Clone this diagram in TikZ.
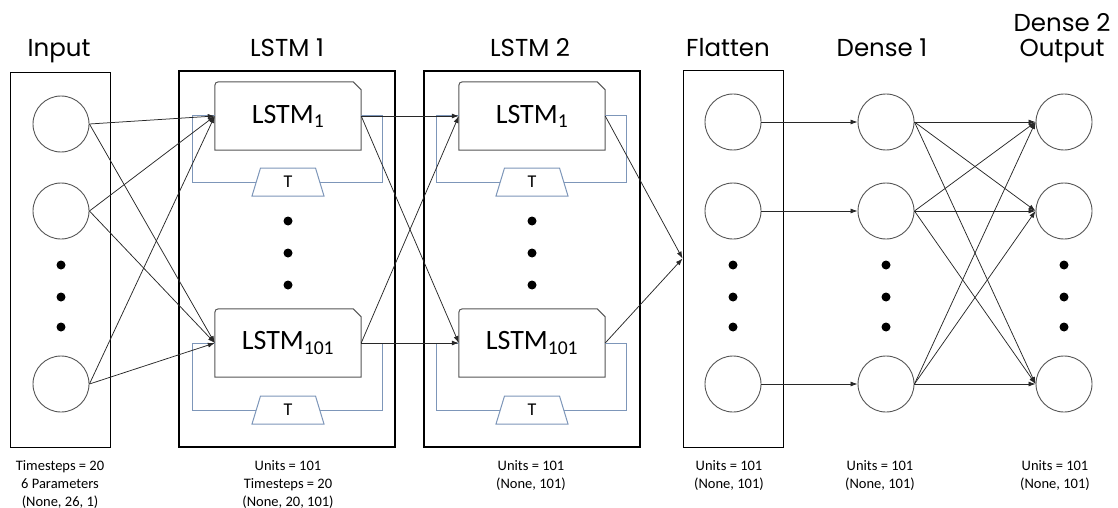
\documentclass[tikz,border=0pt]{standalone}
\usepackage{fontspec}
\setmainfont{Carlito}
\newfontfamily\titlefont{Poppins}
\usetikzlibrary{arrows.meta,calc}
\definecolor{loopblue}{RGB}{125,150,185}
\definecolor{ink}{RGB}{40,40,40}
\definecolor{cellgray}{RGB}{85,85,85}
\tikzset{
 neuron/.style={circle, draw=cellgray, line width=0.9pt, minimum size=56pt, inner sep=0pt},
 dotn/.style={circle, fill=black, minimum size=9pt, inner sep=0pt},
 cellbox/.style={minimum width=146pt, minimum height=68pt, inner sep=0pt, font=\fontsize{28}{32}\selectfont},
 layerbox/.style={draw=black, line width=0.9pt, inner sep=0pt},
 lstmbox/.style={draw=black, line width=1.8pt, inner sep=0pt},
 conn/.style={draw=ink, line width=0.75pt, -{Latex[length=7pt,width=5pt]}},
 feedback/.style={draw=loopblue, line width=1pt},
 tnode/.style={font=\fontsize{18}{20}\selectfont, inner sep=0pt},
 title/.style={font=\titlefont\fontsize{24.5}{28}\selectfont, anchor=base, inner sep=0pt},
 info/.style={font=\fontsize{14.5}{18}\selectfont, align=center, anchor=north, inner sep=0pt},
}
\newcommand\cellshape[1]{%
 \draw[draw=cellgray, line width=1pt] (#1.south west) -- ($(#1.north west)+(0,8)$) .. controls (#1.north west) .. ($(#1.north west)+(8,0)$) -- ($(#1.north east)+(-8,0)$) -- ($(#1.north east)+(0,8)$) -- (#1.south east) -- cycle;}
\newcommand\tbox[3]{%
 \draw[feedback, fill=white] (#2-36,#3+14) -- (#2-27.5,#3-14) -- (#2+27.5,#3-14) -- (#2+36,#3+14) -- cycle;
 \node[tnode] (#1) at (#2,#3) {T};}
\newcommand\fbloop[2]{%
 \draw[feedback] (#1.east) -- ($(#1.east)+(21,0)$) -- ($(#1.east)+(21,#2)$) -- ($(#1.west)+(-22,#2)$) -- ($(#1.west)+(-22,0)$) -- (#1.west);}
\begin{document}
\begin{tikzpicture}[x=1pt,y=-1pt]
\useasboundingbox (0,0) rectangle (1118,508);

% layer boxes
\node[layerbox, minimum width=100pt, minimum height=375pt] (inbox) at (60,259.5) {};
\node[lstmbox, minimum width=216pt, minimum height=376pt] (lstmA) at (287,259) {};
\node[lstmbox, minimum width=216pt, minimum height=376pt] (lstmB) at (532,259) {};
\node[layerbox, minimum width=100pt, minimum height=377pt] (fl) at (733,258.5) {};

% titles
\node[title] (tIn) at (59,57) {Input};
\node[title] (tL1) at (287,57) {LSTM 1};
\node[title] (tL2) at (530,57) {LSTM 2};
\node[title] (tFl) at (728,57) {Flatten};
\node[title] (tD1) at (882,57) {Dense 1};
\node[title] (tD2) at (1062,32) {Dense 2};
\node[title] (tOut) at (1062,57) {Output};

% input neurons
\node[neuron] (in1) at (61,124) {};
\node[neuron] (in2) at (61,211) {};
\node[neuron] (in3) at (61,384) {};
\foreach \y [count=\i] in {265,297,327} \node[dotn] (ind\i) at (61,\y) {};

% LSTM cells
\node[cellbox] (l1a) at (288,116) {LSTM\textsubscript{1}};
\node[cellbox] (l1b) at (288,343) {LSTM\textsubscript{101}};
\node[cellbox] (l2a) at (532,116) {LSTM\textsubscript{1}};
\node[cellbox] (l2b) at (532,343) {LSTM\textsubscript{101}};
\cellshape{l1a}\cellshape{l1b}\cellshape{l2a}\cellshape{l2b}
\fbloop{l1a}{66}\fbloop{l1b}{67}\fbloop{l2a}{66}\fbloop{l2b}{67}
\tbox{t1a}{288}{182}
\tbox{t1b}{288}{410}
\tbox{t2a}{532}{182}
\tbox{t2b}{532}{410}
\foreach \y [count=\i] in {221,253,285} {
  \node[dotn] (l1d\i) at (288,\y) {};
  \node[dotn] (l2d\i) at (532,\y) {};
}

% flatten, dense neurons
\foreach \y [count=\i] in {122,211,384} {
  \node[neuron] (f\i) at (733,\y) {};
  \node[neuron] (d\i) at (886,\y) {};
  \node[neuron] (o\i) at (1064,\y) {};
}
\foreach \y [count=\i] in {265,297,327} {
  \node[dotn] (fd\i) at (733,\y) {};
  \node[dotn] (dd\i) at (886,\y) {};
  \node[dotn] (od\i) at (1064,\y) {};
}

% connections
\foreach \s in {in1,in2,in3} {
  \draw[conn] (\s.east) -- (l1a.west);
  \draw[conn] (\s.east) -- (l1b.west);
}
\foreach \s in {l1a,l1b} {
  \draw[conn] (\s.east) -- (l2a.west);
  \draw[conn] (\s.east) -- (l2b.west);
}
\draw[conn] (l2a.east) -- (fl.west);
\draw[conn] (l2b.east) -- (fl.west);
\foreach \i in {1,2,3} \draw[conn] (f\i.east) -- (d\i.west);
\foreach \i in {1,2,3} \foreach \j in {1,2,3} \draw[conn] (d\i.east) -- (o\j.west);

% info labels
\node[info] (iIn) at (60,460) {Timesteps = 20\\6 Parameters\\(None, 26, 1)};
\node[info] (iL1) at (288,460) {Units = 101\\Timesteps = 20\\(None, 20, 101)};
\node[info] (iL2) at (531,460) {Units = 101\\(None, 101)};
\node[info] (iFl) at (729,460) {Units = 101\\(None, 101)};
\node[info] (iD1) at (880,460) {Units = 101\\(None, 101)};
\node[info] (iD2) at (1055,460) {Units = 101\\(None, 101)};
\end{tikzpicture}
\end{document}
